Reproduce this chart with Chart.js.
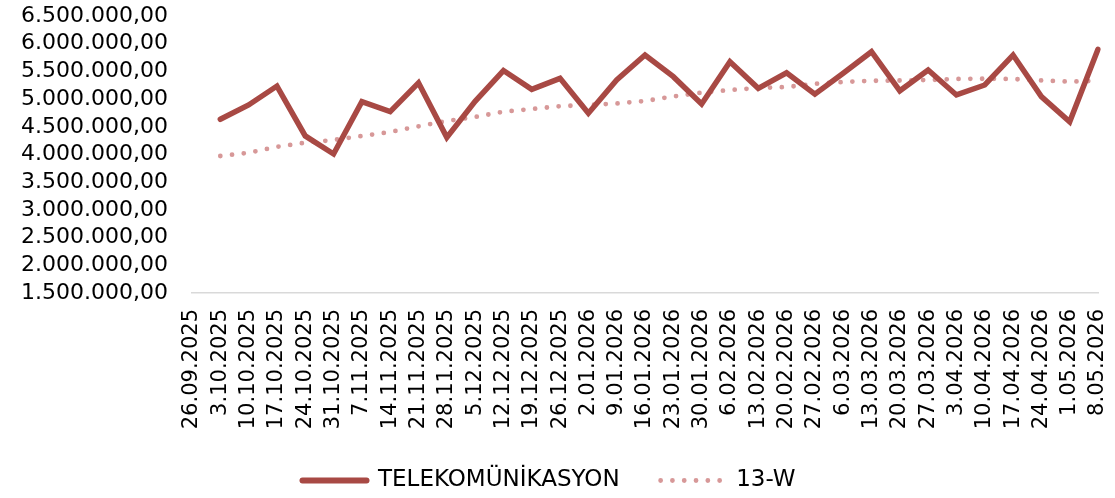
<!DOCTYPE html>
<html lang="tr">
<head>
<meta charset="utf-8">
<title>TELEKOMÜNİKASYON</title>
<script src="https://cdn.jsdelivr.net/npm/chart.js@4.4.1/dist/chart.umd.min.js"></script>
<style>
    html, body { margin: 0; padding: 0; background: #ffffff; }
    #chart-box { position: relative; width: 1115px; height: 498px; }
</style>
</head>
<body>
<div id="chart-box"><canvas id="chart-telekom"></canvas></div>
<script>
// Haftalık tarihler (kategori ekseni)
const weeks = [
    '26.09.2025', '3.10.2025', '10.10.2025', '17.10.2025', '24.10.2025', '31.10.2025',
    '7.11.2025', '14.11.2025', '21.11.2025', '28.11.2025', '5.12.2025', '12.12.2025',
    '19.12.2025', '26.12.2025', '2.01.2026', '9.01.2026', '16.01.2026', '23.01.2026',
    '30.01.2026', '6.02.2026', '13.02.2026', '20.02.2026', '27.02.2026', '6.03.2026',
    '13.03.2026', '20.03.2026', '27.03.2026', '3.04.2026', '10.04.2026', '17.04.2026',
    '24.04.2026', '1.05.2026', '8.05.2026'
];

// TELEKOMÜNİKASYON haftalık değerler (ilk hafta boş)
const telekomValues = [
    null, 4635000, 4895000, 5235000, 4335000, 4010000, 4955000, 4775000, 5295000,
    4310000, 4960000, 5515000, 5175000, 5375000, 4745000, 5345000, 5795000, 5405000,
    4910000, 5675000, 5195000, 5475000, 5090000, 5465000, 5855000, 5150000, 5525000,
    5075000, 5255000, 5795000, 5045000, 4590000, 5900000
];

// 13 haftalık ortalama
const avg13Values = [
    null, 3973000, 4031000, 4139000, 4213000, 4262000, 4334000, 4406000, 4509000,
    4605000, 4677000, 4773000, 4821000, 4872000, 4893000, 4921000, 4966000, 5049000,
    5116000, 5164000, 5200000, 5218000, 5276000, 5309000, 5330000, 5336000, 5345000,
    5363000, 5368000, 5363000, 5336000, 5316000, 5330000
];

// Y ekseni sınırları
const yMin = 1500000;
const yMax = 6500000;
const yStep = 500000;

const seriesNames = ['TELEKOMÜNİKASYON', '13-W'];

// 6.500.000,00 biçimi
function formatTr(value) {
    const parts = Math.round(value).toString().replace(/\B(?=(\d{3})+(?!\d))/g, '.');
    return parts + ',00';
}

// Lejant öğeleri: çizgi stili veri setinden alınır
function legendItems(chart) {
    return chart.data.datasets.map(function(ds, i) {
        return {
            text: ds.label,
            fillStyle: ds.borderColor,
            strokeStyle: ds.borderColor,
            fontColor: '#000000',
            lineWidth: ds.legendWidth,
            lineDash: ds.borderDash || [],
            lineCap: 'round',
            pointStyle: 'line',
            hidden: false,
            datasetIndex: i
        };
    });
}

document.addEventListener('DOMContentLoaded', function() {
    const ctx = document.getElementById('chart-telekom');
    const family = "'DejaVu Sans', sans-serif";

    new Chart(ctx, {
        type: 'line',
        data: {
            labels: weeks,
            datasets: [
                {
                    label: seriesNames[0],
                    data: telekomValues,
                    borderColor: '#A84944',
                    backgroundColor: '#A84944',
                    borderWidth: 5.5,
                    legendWidth: 6,
                    tension: 0,
                    pointRadius: 0,
                    borderJoinStyle: 'miter',
                    borderCapStyle: 'round'
                },
                {
                    label: seriesNames[1],
                    data: avg13Values,
                    borderColor: '#D79898',
                    backgroundColor: '#D79898',
                    borderWidth: 4.8,
                    legendWidth: 4.8,
                    borderDash: [0, 11.8],
                    borderCapStyle: 'round',
                    tension: 0,
                    pointRadius: 0
                }
            ]
        },
        options: {
            responsive: true,
            maintainAspectRatio: false,
            animation: false,
            layout: {
                padding: { top: 16, right: 17, left: 0, bottom: -4 }
            },
            scales: {
                x: {
                    offset: false,
                    grid: { display: false, drawTicks: false },
                    border: { display: true, color: '#d9d9d9', width: 1.5 },
                    ticks: {
                        color: '#000000',
                        font: { family: family, size: 21 },
                        minRotation: 90,
                        maxRotation: 90,
                        autoSkip: false,
                        padding: 16
                    },
                    afterFit: function(scale) {
                        scale.height = 135;
                        scale.paddingLeft = 0;
                        scale.paddingRight = 0;
                    }
                },
                y: {
                    min: yMin,
                    max: yMax,
                    grid: { display: false, drawTicks: false },
                    border: { display: false },
                    ticks: {
                        stepSize: yStep,
                        autoSkip: false,
                        color: '#000000',
                        font: { family: family, size: 22 },
                        padding: 24,
                        callback: function(value) {
                            return formatTr(value);
                        }
                    },
                    afterFit: function(scale) {
                        scale.width = 192;
                        scale.paddingTop = 0;
                        scale.paddingBottom = 0;
                    }
                }
            },
            plugins: {
                legend: {
                    position: 'bottom',
                    labels: {
                        color: '#000000',
                        font: { family: family, size: 23 },
                        usePointStyle: true,
                        pointStyleWidth: 64,
                        boxWidth: 64,
                        padding: 41,
                        generateLabels: legendItems
                    }
                },
                tooltip: { enabled: false }
            }
        }
    });
});
</script>
</body>
</html>
